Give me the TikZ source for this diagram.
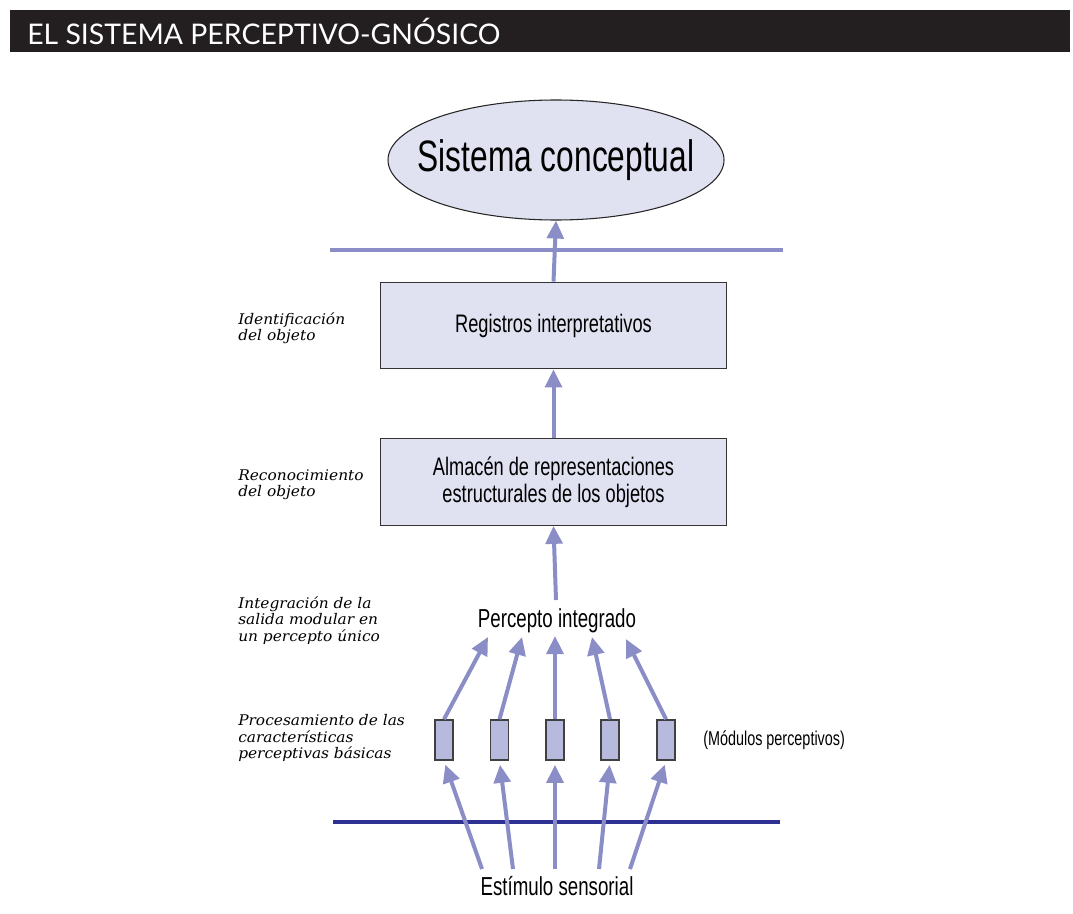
\documentclass[tikz,border=0pt]{standalone}
\usepackage{fontspec}
\setmainfont{Liberation Sans}
\newfontfamily\condfont[FakeStretch=0.72]{Liberation Sans}
\newfontfamily\labelfont[FakeStretch=1.05]{DejaVu Serif}
\newfontfamily\titlefont{Lato}
\usetikzlibrary{shapes.geometric,arrows.meta}
\definecolor{barbg}{HTML}{231F20}
\definecolor{arrowc}{HTML}{8B8DC7}
\definecolor{boxfill}{HTML}{E0E1F1}
\definecolor{modfill}{HTML}{B8BADD}
\definecolor{darkrule}{HTML}{2E3192}
\begin{document}
\begin{tikzpicture}[x=0.75pt,y=-0.75pt,
  arr/.style={draw=arrowc,line width=3pt,-{Triangle[width=12.5pt,length=13.5pt]}},
  rule/.style={draw=arrowc,line width=3pt},
  stagebox/.style={draw=black!80,line width=0.8pt,fill=boxfill,minimum width=260pt,minimum height=65pt,inner sep=0pt,font=\condfont\fontsize{19}{20}\selectfont,align=center},
  module/.style={draw=black!75,line width=1.2pt,fill=modfill,minimum width=13.5pt,minimum height=30pt,inner sep=0pt},
  level/.style={anchor=north west,align=left,inner sep=0pt,font=\labelfont\itshape\fontsize{11}{12.5}\selectfont},
  plain/.style={inner sep=0pt,font=\condfont\fontsize{19.5}{22}\selectfont}
]
\useasboundingbox (0,0) rectangle (1073,913);
% title bar
\node[fill=barbg,minimum width=795pt,minimum height=31.5pt,inner sep=0pt,anchor=north west] (bar) at (10,10) {};
\node[anchor=west,text=white,inner sep=0pt,font=\titlefont\fontsize{21.3}{24}\selectfont] (title) at (27,31) {EL SISTEMA PERCEPTIVO-GNÓSICO};

% top concept
\node[ellipse,draw=black!85,line width=0.8pt,fill=boxfill,minimum width=252pt,minimum height=90pt,inner sep=0pt] (concept) at (556,160) {};
\node[inner sep=0pt,font=\condfont\fontsize{33}{38}\selectfont] (concepttxt) at (concept.center) {Sistema conceptual};

% boxes
\node[stagebox] (reg) at (553.5,325.5) {Registros interpretativos};
\node[stagebox] (alm) at (553.5,482) {Almacén de representaciones\\estructurales de los objetos};

% horizontal rules
\coordinate (r1a) at (330,250);
\coordinate (r1b) at (783,250);
\draw[rule] (r1a) -- (r1b);
\coordinate (r2a) at (333,822);
\coordinate (r2b) at (780,822);
\draw[draw=darkrule,line width=3pt] (r2a) -- (r2b);

% integrated percept
\node[plain] (perc) at (557,621) {Percepto integrado};

% modules
\node[module] (m1) at (444,740) {};
\node[module] (m2) at (499.5,740) {};
\node[module] (m3) at (555,740) {};
\node[module] (m4) at (610,740) {};
\node[module] (m5) at (666,740) {};
\node[plain,anchor=west,font=\condfont\fontsize{15}{18}\selectfont] (modlab) at (703,740) {(Módulos perceptivos)};

% stimulus
\node[plain] (stim) at (557,886) {Estímulo sensorial};

% vertical flow
\draw[arr] (reg.north) -- (concept.south);
\draw[arr] (alm.north) -- (reg.south);
\coordinate (pt) at (556,600);
\draw[arr] (pt) -- (alm.south);

% modules to percept
\coordinate (p1) at (488,637);
\coordinate (p2) at (522,637);
\coordinate (p3) at (555,636);
\coordinate (p4) at (592,637);
\coordinate (p5) at (626,639);
\draw[arr] (m1.north) -- (p1);
\draw[arr] (m2.north) -- (p2);
\draw[arr] (m3.north) -- (p3);
\draw[arr] (m4.north) -- (p4);
\draw[arr] (m5.north) -- (p5);

% stimulus to modules
\coordinate (s1) at (482,869);
\coordinate (s2) at (513,869);
\coordinate (s3) at (555,869);
\coordinate (s4) at (599,869);
\coordinate (s5) at (630,869);
\draw[arr,shorten >=3pt] (s1) -- (m1.south);
\draw[arr,shorten >=3pt] (s2) -- (m2.south);
\draw[arr,shorten >=3pt] (s3) -- (m3.south);
\draw[arr,shorten >=3pt] (s4) -- (m4.south);
\draw[arr,shorten >=3pt] (s5) -- (m5.south);

% stage labels
\node[level] (l1) at (238,312) {Identificación\\del objeto};
\node[level] (l2) at (238,469) {Reconocimiento\\del objeto};
\node[level] (l3) at (238,596) {Integración de la\\salida modular en\\un percepto único};
\node[level] (l4) at (238,714) {Procesamiento de las\\características\\perceptivas básicas};
\end{tikzpicture}
\end{document}
